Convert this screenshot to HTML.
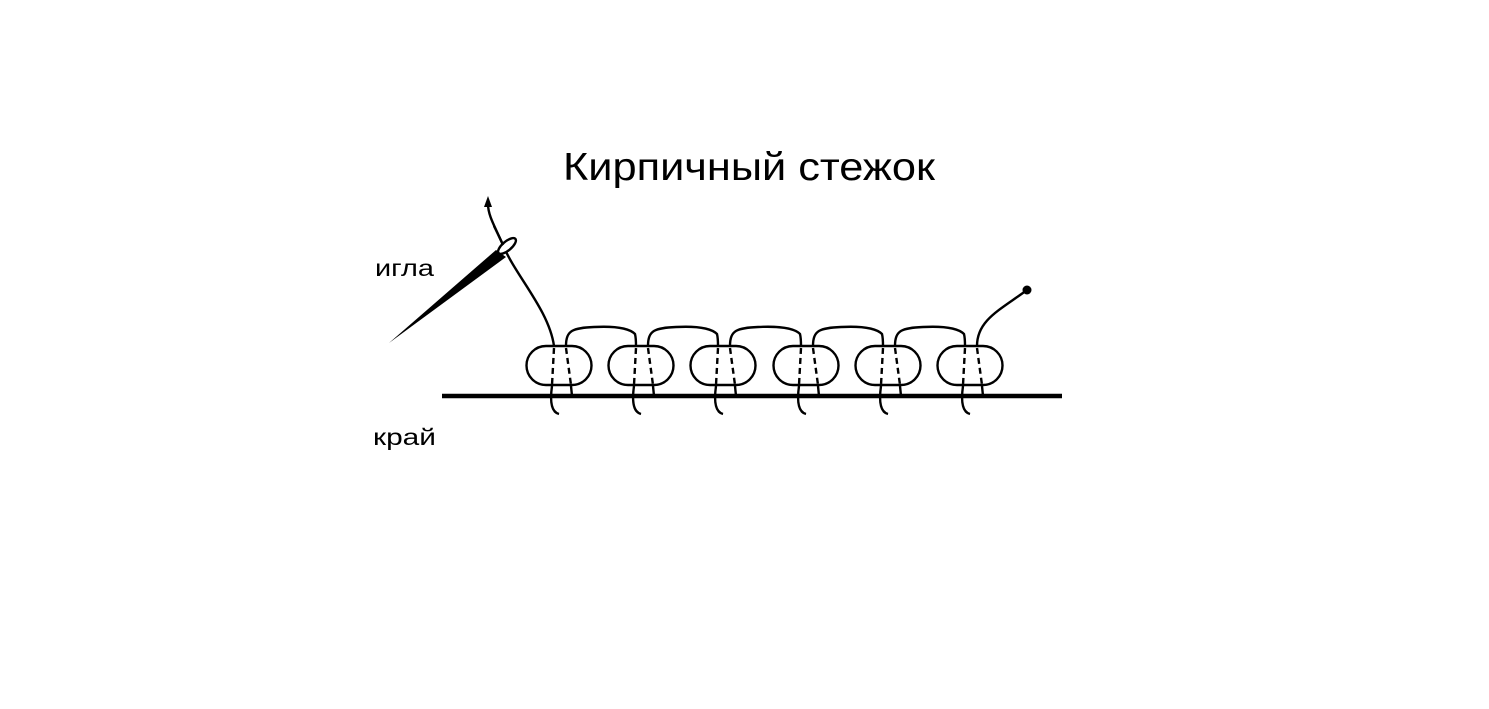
<!DOCTYPE html>
<html><head><meta charset="utf-8"><style>
html,body{margin:0;padding:0;background:#fff;}
svg{display:block;}
</style></head><body>
<svg width="1489" height="709" viewBox="0 0 1489 709" xmlns="http://www.w3.org/2000/svg">
<rect width="1489" height="709" fill="#fff"/>
<text x="563" y="180" font-family="Liberation Sans, DejaVu Sans, sans-serif" font-size="39" textLength="372" lengthAdjust="spacingAndGlyphs" fill="#000">Кирпичный стежок</text>
<text x="375" y="276" font-family="Liberation Sans, DejaVu Sans, sans-serif" font-size="23" textLength="59" lengthAdjust="spacingAndGlyphs" fill="#000">игла</text>
<text x="373" y="445" font-family="Liberation Sans, DejaVu Sans, sans-serif" font-size="23" textLength="63" lengthAdjust="spacingAndGlyphs" fill="#000">край</text>
<line x1="442" y1="396" x2="1062" y2="396" stroke="#000" stroke-width="4.5"/>
<g fill="none" stroke="#000" stroke-width="2.4">
<path d="M554 346 C549 310, 515 275, 503 245 C494 225, 488 215, 488 204"/>
<path d="M977 346 C977 320, 1000 310, 1027 290"/>
</g>
<polygon points="488,196 484,207 492,207" fill="#000"/>
<circle cx="1027" cy="290" r="4.5" fill="#000"/>
<polygon points="389,343 496,250 506,257" fill="#000"/>
<ellipse cx="507" cy="246" rx="11" ry="4.5" transform="rotate(-40 507 246)" fill="#fff" stroke="#000" stroke-width="2.4"/>
<path d="M503 245 C500 238, 497 232, 494 226" fill="none" stroke="#000" stroke-width="2.4"/>
<g fill="none" stroke="#000" stroke-width="2.4">
<rect x="526.5" y="346" width="65" height="39" rx="19.5"/>
<rect x="608.5" y="346" width="65" height="39" rx="19.5"/>
<rect x="690.5" y="346" width="65" height="39" rx="19.5"/>
<rect x="773.5" y="346" width="65" height="39" rx="19.5"/>
<rect x="855.5" y="346" width="65" height="39" rx="19.5"/>
<rect x="937.5" y="346" width="65" height="39" rx="19.5"/>
<g stroke-dasharray="6,4">
<line x1="554" y1="348" x2="552" y2="385"/><line x1="566" y1="348" x2="571" y2="385"/>
<line x1="636" y1="348" x2="634" y2="385"/><line x1="648" y1="348" x2="653" y2="385"/>
<line x1="718" y1="348" x2="716" y2="385"/><line x1="730" y1="348" x2="735" y2="385"/>
<line x1="801" y1="348" x2="799" y2="385"/><line x1="813" y1="348" x2="818" y2="385"/>
<line x1="883" y1="348" x2="881" y2="385"/><line x1="895" y1="348" x2="900" y2="385"/>
<line x1="965" y1="348" x2="963" y2="385"/><line x1="977" y1="348" x2="982" y2="385"/>
</g>
<path d="M552 386 C550 400,551 412,559 414"/><line x1="571" y1="386" x2="572" y2="396"/>
<path d="M634 386 C632 400,633 412,641 414"/><line x1="653" y1="386" x2="654" y2="396"/>
<path d="M716 386 C714 400,715 412,723 414"/><line x1="735" y1="386" x2="736" y2="396"/>
<path d="M799 386 C797 400,798 412,806 414"/><line x1="818" y1="386" x2="819" y2="396"/>
<path d="M881 386 C879 400,880 412,888 414"/><line x1="900" y1="386" x2="901" y2="396"/>
<path d="M963 386 C961 400,962 412,970 414"/><line x1="982" y1="386" x2="983" y2="396"/>
<path d="M566 346 C566 330,573 328,594 327 C614 326,629 328,635 334 C636 338,636 342,636 346"/>
<path d="M648 346 C648 330,655 328,676 327 C696 326,711 328,717 334 C718 338,718 342,718 346"/>
<path d="M730 346 C730 330,737 328,758 327 C778 326,794 328,800 334 C801 338,801 342,801 346"/>
<path d="M813 346 C813 330,820 328,841 327 C861 326,876 328,882 334 C883 338,883 342,883 346"/>
<path d="M895 346 C895 330,902 328,923 327 C943 326,958 328,964 334 C965 338,965 342,965 346"/>
</g>
</svg>
</body></html>
